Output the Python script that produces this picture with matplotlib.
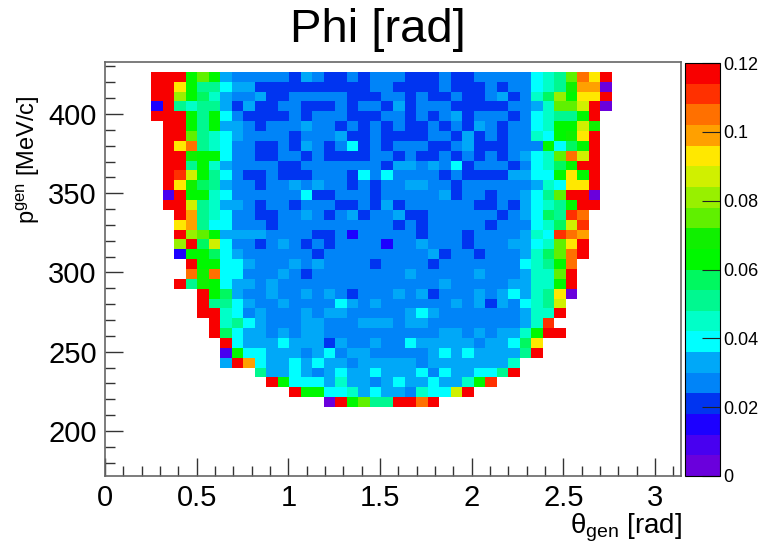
import numpy as np
import matplotlib
matplotlib.use('Agg')
import matplotlib.pyplot as plt
from matplotlib.colors import ListedColormap, BoundaryNorm
from matplotlib.ticker import FixedLocator, MultipleLocator

plt.rcParams['font.family'] = ['Liberation Sans', 'DejaVu Sans']
plt.rcParams['mathtext.fontset'] = 'custom'
plt.rcParams['mathtext.rm'] = 'Liberation Sans'
plt.rcParams['mathtext.it'] = 'Liberation Sans'

# resolution per bin in thousandths of a rad, rows from the top of the map down
first_bin = [4, 4, 4, 4, 4, 5, 5, 5, 5, 5, 5, 5, 5, 5, 6, 6, 6, 6, 6, 7, 7, 6, 8, 8, 8, 9, 9, 10, 10, 10, 13, 14, 16, 19]
rows = [
    [117, 117, 117, 63, 75, 63, 33, 27, 27, 27, 27, 27, 21, 33, 27, 21, 21, 27, 21, 27, 27, 27, 21, 21, 21, 27, 21, 21, 27, 27, 27, 27, 27, 39, 45, 51, 75, 105, 93, 117],
    [117, 117, 93, 63, 51, 51, 39, 33, 33, 21, 21, 21, 21, 21, 21, 21, 21, 21, 21, 27, 27, 21, 21, 21, 21, 27, 21, 21, 21, 27, 21, 27, 27, 39, 45, 51, 69, 99, 99, 3],
    [117, 117, 81, 63, 57, 45, 33, 27, 27, 33, 21, 21, 27, 27, 27, 27, 27, 21, 21, 21, 27, 27, 21, 27, 21, 21, 27, 21, 21, 27, 33, 21, 27, 45, 57, 81, 63, 93, 93, 117],
    [15, 117, 51, 45, 51, 51, 33, 21, 33, 21, 21, 27, 27, 21, 21, 21, 27, 21, 27, 27, 21, 33, 21, 27, 27, 27, 21, 21, 21, 21, 21, 27, 27, 33, 45, 75, 75, 87, 117, 3],
    [117, 117, 117, 63, 51, 63, 39, 27, 21, 21, 21, 21, 27, 21, 27, 27, 27, 21, 21, 21, 27, 27, 21, 27, 21, 27, 33, 21, 27, 27, 27, 21, 27, 39, 45, 51, 51, 63, 117],
    [117, 117, 63, 51, 63, 33, 33, 27, 21, 27, 27, 27, 33, 27, 27, 21, 27, 21, 27, 21, 27, 21, 21, 27, 21, 27, 21, 33, 27, 21, 27, 27, 39, 45, 63, 63, 87, 69],
    [117, 117, 75, 51, 45, 39, 33, 27, 27, 27, 27, 21, 27, 27, 27, 33, 21, 21, 27, 21, 21, 21, 21, 27, 27, 21, 33, 21, 27, 21, 27, 27, 45, 39, 63, 69, 93, 117],
    [117, 93, 105, 51, 45, 39, 27, 27, 21, 21, 27, 21, 33, 27, 21, 27, 39, 21, 27, 21, 27, 27, 27, 21, 21, 27, 33, 21, 21, 21, 27, 27, 27, 63, 39, 57, 63, 117],
    [117, 117, 69, 63, 63, 39, 27, 27, 21, 21, 27, 27, 21, 27, 21, 21, 21, 21, 27, 27, 21, 27, 21, 21, 27, 21, 27, 21, 27, 21, 27, 33, 39, 45, 75, 105, 87, 117],
    [117, 117, 51, 63, 45, 33, 27, 27, 27, 27, 21, 21, 27, 27, 27, 27, 27, 27, 27, 21, 33, 33, 27, 33, 27, 39, 21, 27, 27, 27, 21, 27, 39, 45, 57, 63, 117, 117],
    [117, 111, 87, 63, 51, 39, 27, 21, 21, 27, 21, 21, 21, 27, 27, 27, 21, 39, 27, 39, 27, 27, 27, 27, 21, 27, 21, 21, 21, 21, 33, 33, 39, 39, 63, 93, 63, 117],
    [117, 93, 69, 57, 51, 33, 27, 27, 21, 27, 27, 33, 27, 33, 27, 27, 21, 27, 21, 27, 27, 33, 33, 27, 27, 21, 27, 27, 27, 27, 27, 27, 33, 45, 39, 93, 93, 117],
    [9, 117, 63, 63, 45, 39, 27, 27, 27, 27, 27, 27, 39, 21, 21, 27, 27, 27, 21, 27, 27, 27, 27, 27, 33, 21, 27, 27, 21, 27, 27, 33, 39, 51, 75, 117, 117, 3],
    [117, 117, 87, 51, 45, 33, 33, 27, 21, 27, 27, 21, 27, 27, 27, 21, 21, 27, 21, 33, 21, 27, 27, 27, 27, 27, 27, 21, 21, 27, 21, 33, 39, 45, 51, 63, 117, 117],
    [117, 99, 51, 45, 39, 27, 27, 21, 21, 27, 27, 33, 27, 21, 27, 33, 21, 27, 27, 33, 21, 21, 27, 27, 27, 27, 27, 27, 21, 27, 33, 39, 57, 51, 111, 105],
    [93, 99, 51, 39, 39, 27, 27, 27, 21, 27, 27, 27, 27, 27, 27, 27, 27, 27, 27, 21, 27, 21, 27, 27, 27, 27, 27, 21, 27, 27, 27, 39, 45, 57, 87, 111],
    [117, 81, 75, 63, 33, 33, 33, 33, 27, 27, 27, 27, 21, 21, 27, 15, 27, 27, 27, 27, 27, 21, 27, 27, 27, 21, 27, 27, 27, 27, 33, 45, 39, 111, 105, 99],
    [81, 117, 57, 87, 39, 27, 27, 21, 27, 33, 27, 21, 27, 21, 27, 27, 27, 27, 15, 27, 27, 33, 27, 27, 27, 21, 27, 27, 27, 33, 33, 39, 45, 75, 93, 117],
    [15, 63, 63, 57, 39, 33, 27, 27, 27, 27, 27, 27, 21, 27, 27, 27, 27, 27, 27, 27, 27, 27, 33, 21, 27, 27, 21, 27, 27, 27, 33, 45, 57, 75, 105, 117],
    [117, 63, 63, 39, 39, 33, 27, 27, 27, 33, 27, 33, 27, 27, 27, 27, 21, 27, 27, 27, 27, 21, 27, 27, 27, 27, 27, 27, 27, 39, 45, 51, 63, 105],
    [105, 69, 105, 39, 39, 27, 27, 27, 33, 27, 21, 27, 27, 27, 27, 27, 27, 27, 27, 33, 27, 27, 27, 27, 27, 33, 27, 27, 27, 33, 45, 45, 75, 117],
    [117, 51, 69, 63, 39, 33, 33, 27, 33, 27, 27, 27, 27, 27, 27, 27, 27, 27, 27, 27, 27, 27, 27, 33, 27, 27, 27, 27, 27, 33, 33, 45, 45, 63, 117],
    [117, 63, 57, 33, 27, 27, 33, 27, 27, 33, 27, 33, 27, 21, 27, 27, 27, 33, 27, 33, 21, 27, 27, 27, 33, 27, 33, 39, 33, 45, 51, 93, 3],
    [117, 51, 51, 39, 33, 27, 27, 33, 27, 27, 27, 27, 39, 33, 27, 33, 27, 27, 27, 27, 27, 27, 33, 27, 33, 21, 33, 27, 39, 45, 51, 87],
    [117, 117, 45, 39, 27, 33, 27, 27, 27, 33, 27, 33, 33, 27, 27, 27, 27, 27, 33, 39, 33, 27, 27, 27, 27, 27, 27, 27, 33, 45, 45, 117],
    [117, 45, 51, 39, 33, 27, 27, 27, 33, 33, 27, 27, 27, 33, 33, 33, 27, 33, 33, 27, 27, 27, 27, 27, 27, 27, 27, 33, 45, 111],
    [117, 57, 39, 33, 33, 27, 33, 27, 33, 33, 27, 27, 27, 27, 27, 27, 27, 27, 27, 27, 33, 33, 27, 33, 27, 33, 33, 45, 63, 117, 117],
    [117, 39, 33, 33, 33, 39, 33, 33, 33, 21, 33, 27, 27, 33, 27, 27, 39, 33, 33, 33, 33, 33, 27, 33, 33, 39, 57, 93],
    [9, 63, 39, 39, 33, 33, 33, 27, 33, 39, 27, 33, 33, 27, 27, 27, 27, 27, 33, 39, 33, 39, 33, 33, 33, 33, 51, 117],
    [33, 117, 99, 39, 33, 33, 39, 33, 39, 33, 33, 27, 33, 33, 33, 33, 33, 27, 33, 33, 33, 33, 33, 33, 33, 45],
    [51, 33, 33, 39, 33, 27, 33, 39, 33, 33, 39, 33, 33, 33, 39, 27, 39, 33, 33, 39, 39, 51, 117],
    [117, 63, 39, 39, 39, 33, 45, 33, 33, 27, 33, 39, 33, 33, 39, 33, 33, 45, 63, 111],
    [117, 63, 63, 39, 39, 45, 33, 39, 33, 33, 27, 45, 39, 39, 87, 117],
    [3, 117, 63, 75, 51, 51, 117, 117, 105, 117],
]

level_edges = np.arange(0, 0.1201, 0.006)
level_colors = ['#6a00dc', '#4800f0', '#1c00ff', '#0034f0', '#0084f8', '#00a8f8', '#00ffff',
                '#00ffc8', '#00f890', '#00f860', '#00f800', '#10f000', '#60f000', '#98f000',
                '#d0f000', '#ffe800', '#ffa000', '#ff7000', '#ff3000', '#f80000']

theta_ticks = [0, 0.5, 1, 1.5, 2, 2.5, 3]
p_ticks = [200, 250, 300, 350, 400]
z_ticks = [0, 0.02, 0.04, 0.06, 0.08, 0.1, 0.12]
z_labels = ['0', '0.02', '0.04', '0.06', '0.08', '0.1', '0.12']

# 50 theta bins over 0-pi, 42 momentum bins, top row of the histogram stays empty
theta_edges = np.linspace(0, np.pi, 51)
p_edges = np.linspace(171.6, 432.8, 43)
grid = np.full((42, 50), np.nan)
for i, row in enumerate(rows):
    grid[40 - i, first_bin[i]:first_bin[i] + len(row)] = np.array(row) / 1000.0

W, H = 759, 547
fig = plt.figure(figsize=(W / 100, H / 100), dpi=100)
ax = fig.add_axes([105 / W, 1 - 476 / H, 576 / W, 414 / H])

cmap = ListedColormap(level_colors)
norm = BoundaryNorm(level_edges, cmap.N)
mesh = ax.pcolormesh(theta_edges, p_edges, np.ma.masked_invalid(grid), cmap=cmap, norm=norm,
                     antialiased=False, linewidth=0)

ax.set_xlim(0, np.pi)
ax.set_ylim(171.6, 432.8)
ax.set_xticks(theta_ticks)
ax.set_xticklabels(['0', '0.5', '1', '1.5', '2', '2.5', '3'])
ax.set_yticks(p_ticks)
ax.xaxis.set_minor_locator(MultipleLocator(0.1))
ax.yaxis.set_minor_locator(MultipleLocator(10))
ax.tick_params(which='major', direction='in', length=13, width=1, color='#333333', labelsize=21, pad=6)
ax.tick_params(which='minor', direction='in', length=7, width=1, color='#333333')
for s in ax.spines.values():
    s.set_color('#666666')
    s.set_linewidth(1.2)

fig.text(378 / W, 1 - 30 / H, 'Phi [rad]', fontsize=34, ha='center', va='center')
fig.text(682 / W, 1 - 528 / H, r'$\mathrm{\theta_{gen}}$ [rad]', fontsize=20, ha='right', va='center')
fig.text(28 / W, 1 - 160 / H, r'$\mathrm{p^{gen}}$ [MeV/c]', fontsize=17, rotation=90, ha='center', va='center')

cax = fig.add_axes([685 / W, 1 - 476 / H, 35 / W, 413 / H])
cb = fig.colorbar(mesh, cax=cax, spacing='proportional', drawedges=False)
cb.ax.yaxis.set_major_locator(FixedLocator(z_ticks))
cb.ax.yaxis.set_minor_locator(FixedLocator([]))
cb.ax.set_yticklabels(z_labels)
cb.ax.tick_params(direction='in', length=13, width=0.8, color='#222222', labelsize=13, pad=2, right=True)
cb.outline.set_linewidth(0.8)

fig.savefig('out.png', dpi=100)
